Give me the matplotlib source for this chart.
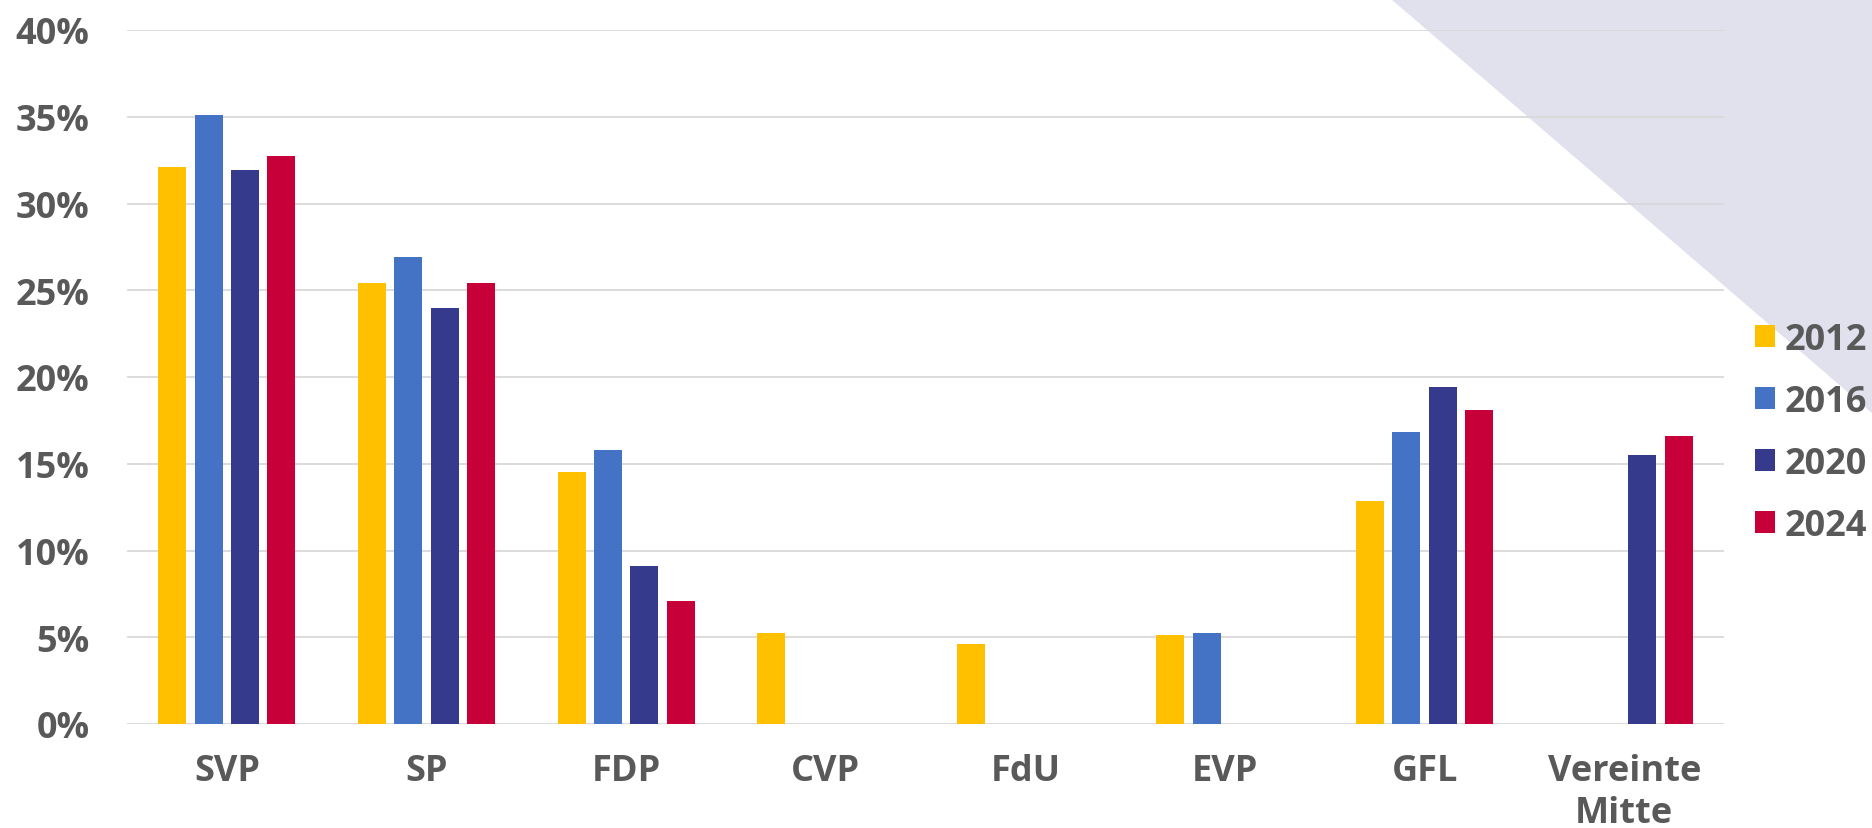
import numpy as np
import matplotlib
matplotlib.use('Agg')
import matplotlib.pyplot as plt
from matplotlib.patches import Polygon

# Vote shares (%) per party and election year
parties = ['SVP', 'SP', 'FDP', 'CVP', 'FdU', 'EVP', 'GFL', 'Vereinte\nMitte']
years = ['2012', '2016', '2020', '2024']
v2012 = [32.1, 25.4, 14.5, 5.25, 4.6, 5.15, 12.85, np.nan]
v2016 = [35.1, 26.9, 15.8, np.nan, np.nan, 5.25, 16.85, np.nan]
v2020 = [31.95, 24.0, 9.1, np.nan, np.nan, np.nan, 19.4, 15.5]
v2024 = [32.75, 25.4, 7.1, np.nan, np.nan, np.nan, 18.1, 16.6]
colors = ['#FFC000', '#4472C4', '#353A8C', '#C7003A']

grey = '#595959'
fs = 26
plt.rcParams['font.family'] = ['Open Sans', 'DejaVu Sans']

fig = plt.figure(figsize=(18.72, 8.29), dpi=100)

# lavender corner triangle in the background (figure pixel coords)
W, H = 1872, 829
tri = Polygon([[1391 / W, 1.0], [1.0, 1.0], [1.0, 1 - 414 / H]],
              closed=True, transform=fig.transFigure,
              facecolor='#E1E1EE', edgecolor='none', zorder=-5)
fig.patches.append(tri)

ax = fig.add_axes([127 / W, 104 / H, 1597 / W, 694 / H])
ax.set_facecolor('none')
ax.set_zorder(2)

x = np.arange(len(parties))
slot = 0.182
width = 0.14
for i, (vals, yr) in enumerate(zip([v2012, v2016, v2020, v2024], years)):
    ax.bar(x + (i - 1.5) * slot, vals, width=width, color=colors[i],
           label=yr, zorder=3)

ax.set_xlim(-0.5, len(parties) - 0.5)
ax.set_ylim(0, 40)
ax.set_yticks(np.arange(0, 41, 5))
ax.set_yticklabels([f'{t}%' for t in range(0, 41, 5)])
ax.set_xticks(x)
ax.set_xticklabels(parties, linespacing=1.2)

ax.yaxis.grid(True, color='#D9D9D9', linewidth=1.3, zorder=1)
ax.set_axisbelow(True)
for s in ax.spines.values():
    s.set_visible(False)
ax.tick_params(axis='both', length=0, labelsize=fs, labelcolor=grey)
ax.tick_params(axis='y', pad=27)
ax.tick_params(axis='x', pad=21)
for lab in ax.get_xticklabels() + ax.get_yticklabels():
    lab.set_fontweight('bold')

leg = ax.legend(loc='center left', bbox_to_anchor=(1755 / W, 1 - 434 / H),
                bbox_transform=fig.transFigure, frameon=False,
                borderpad=0, borderaxespad=0, handlelength=0.55,
                handleheight=0.55, handletextpad=0.28, labelspacing=0.72,
                prop={'size': fs, 'weight': 'bold'})
for t in leg.get_texts():
    t.set_color(grey)

fig.savefig('out.png', dpi=100)
